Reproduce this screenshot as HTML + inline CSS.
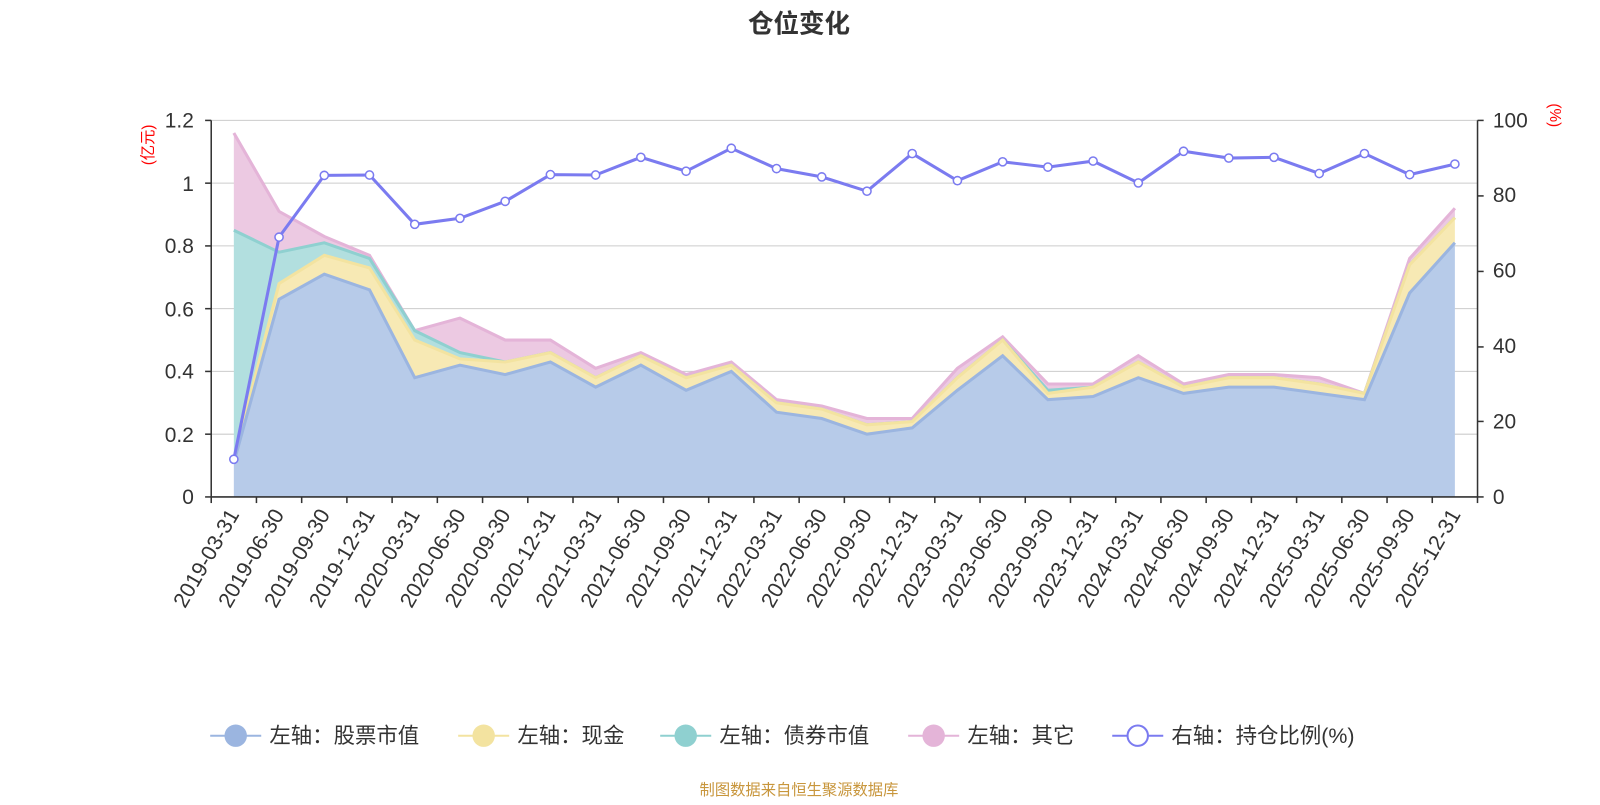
<!DOCTYPE html>
<html><head><meta charset="utf-8"><style>
body{margin:0;background:#fff;}
svg text{font-family:"Liberation Sans","Noto Sans CJK SC",sans-serif;}
</style></head><body>
<svg id="s" width="1600" height="800" xmlns="http://www.w3.org/2000/svg">
<rect width="1600" height="800" fill="#fff"/>
<g transform="scale(1.0204)">
<text x="783" y="32" text-anchor="middle" font-size="25" font-weight="bold" fill="#333">仓位变化</text>
<g id="grid" stroke="#ccc" stroke-width="1">
<line x1="207" x2="1448" y1="118" y2="118"/><line x1="207" x2="1448" y1="179.5" y2="179.5"/><line x1="207" x2="1448" y1="241" y2="241"/><line x1="207" x2="1448" y1="302.5" y2="302.5"/><line x1="207" x2="1448" y1="364" y2="364"/><line x1="207" x2="1448" y1="425.5" y2="425.5"/>
</g>
<g id="areas"></g>
<g stroke="#333" stroke-width="1.5"><line x1="207" x2="207" y1="118" y2="487"/><line x1="1448" x2="1448" y1="118" y2="487"/><line x1="207" x2="1448" y1="487" y2="487"/></g>
<g id="ticks" stroke="#333" stroke-width="1.5"></g>
<g font-size="20.5" fill="#333" text-anchor="end">
<text x="190" y="125">1.2</text><text x="190" y="187">1</text><text x="190" y="248">0.8</text><text x="190" y="310">0.6</text><text x="190" y="371">0.4</text><text x="190" y="433">0.2</text><text x="190" y="494">0</text>
</g>
<g font-size="20.5" fill="#333" text-anchor="start">
<text x="1463" y="125">100</text><text x="1463" y="198">80</text><text x="1463" y="272">60</text><text x="1463" y="346">40</text><text x="1463" y="420">20</text><text x="1463" y="494">0</text>
</g>
<text transform="translate(150,142) rotate(-90)" font-size="15" fill="red" text-anchor="middle">(亿元)</text>
<text transform="translate(1519,113) rotate(90)" font-size="15" fill="red" text-anchor="middle">(%)</text>
<g id="xl" font-size="21" fill="#333" text-anchor="end">
<text transform="translate(235,504) rotate(-60)">2019-03-31</text>
<text transform="translate(279,504) rotate(-60)">2019-06-30</text>
<text transform="translate(324,504) rotate(-60)">2019-09-30</text>
<text transform="translate(368,504) rotate(-60)">2019-12-31</text>
<text transform="translate(412,504) rotate(-60)">2020-03-31</text>
<text transform="translate(457,504) rotate(-60)">2020-06-30</text>
<text transform="translate(501,504) rotate(-60)">2020-09-30</text>
<text transform="translate(545,504) rotate(-60)">2020-12-31</text>
<text transform="translate(590,504) rotate(-60)">2021-03-31</text>
<text transform="translate(634,504) rotate(-60)">2021-06-30</text>
<text transform="translate(678,504) rotate(-60)">2021-09-30</text>
<text transform="translate(723,504) rotate(-60)">2021-12-31</text>
<text transform="translate(767,504) rotate(-60)">2022-03-31</text>
<text transform="translate(811,504) rotate(-60)">2022-06-30</text>
<text transform="translate(855,504) rotate(-60)">2022-09-30</text>
<text transform="translate(900,504) rotate(-60)">2022-12-31</text>
<text transform="translate(944,504) rotate(-60)">2023-03-31</text>
<text transform="translate(988,504) rotate(-60)">2023-06-30</text>
<text transform="translate(1033,504) rotate(-60)">2023-09-30</text>
<text transform="translate(1077,504) rotate(-60)">2023-12-31</text>
<text transform="translate(1121,504) rotate(-60)">2024-03-31</text>
<text transform="translate(1166,504) rotate(-60)">2024-06-30</text>
<text transform="translate(1210,504) rotate(-60)">2024-09-30</text>
<text transform="translate(1254,504) rotate(-60)">2024-12-31</text>
<text transform="translate(1299,504) rotate(-60)">2025-03-31</text>
<text transform="translate(1343,504) rotate(-60)">2025-06-30</text>
<text transform="translate(1387,504) rotate(-60)">2025-09-30</text>
<text transform="translate(1432,504) rotate(-60)">2025-12-31</text>
</g>
<g font-size="21" fill="#333">
<line x1="206" x2="256" y1="721" y2="721" stroke="#9bb5e0" stroke-width="2"/><circle cx="231" cy="721" r="11" fill="#9bb5e0"/><text x="264" y="728">左轴：股票市值</text>
<line x1="449" x2="499" y1="721" y2="721" stroke="#f3e3a0" stroke-width="2"/><circle cx="474" cy="721" r="11" fill="#f3e3a0"/><text x="507" y="728">左轴：现金</text>
<line x1="647" x2="697" y1="721" y2="721" stroke="#8fd0d0" stroke-width="2"/><circle cx="672" cy="721" r="11" fill="#8fd0d0"/><text x="705" y="728">左轴：债券市值</text>
<line x1="890" x2="940" y1="721" y2="721" stroke="#e4b4d8" stroke-width="2"/><circle cx="915" cy="721" r="11" fill="#e4b4d8"/><text x="948" y="728">左轴：其它</text>
<line x1="1090" x2="1140" y1="721" y2="721" stroke="#7b7bf0" stroke-width="2"/><circle cx="1115" cy="721" r="10" fill="#fff" stroke="#7b7bf0" stroke-width="2"/><text x="1148" y="728">右轴：持仓比例(%)</text>
</g>
<text x="783" y="779" text-anchor="middle" font-size="15" fill="#c8963c">制图数据来自恒生聚源数据库</text>
</g>
</svg>
<script>
var NS="http://www.w3.org/2000/svg";
function X(i){return 207+44.32*(i+0.5);}
function YL(v){return 487-v*307.5;}
function YR(v){return 487-v*3.69;}
var st=[0.11,0.63,0.71,0.66,0.38,0.42,0.39,0.43,0.35,0.42,0.34,0.40,0.27,0.25,0.20,0.22,0.34,0.45,0.31,0.32,0.38,0.33,0.35,0.35,0.33,0.31,0.65,0.81];
var ca=[0.12,0.68,0.77,0.73,0.50,0.44,0.43,0.46,0.38,0.45,0.38,0.42,0.30,0.28,0.23,0.24,0.38,0.50,0.33,0.35,0.43,0.35,0.38,0.38,0.36,0.33,0.74,0.89];
var bo=ca.slice();bo[0]=0.85;bo[1]=0.78;bo[2]=0.81;bo[3]=0.76;bo[4]=0.53;bo[5]=0.46;bo[18]=0.34;
var ot=[1.16,0.91,0.83,0.77,0.53,0.57,0.50,0.50,0.41,0.46,0.39,0.43,0.31,0.29,0.25,0.25,0.41,0.51,0.36,0.36,0.45,0.36,0.39,0.39,0.38,0.33,0.76,0.92];
var ra=[10,69,85.4,85.5,72.4,74,78.5,85.6,85.5,90.2,86.5,92.6,87.2,85,81.2,91.2,84,89,87.6,89.2,83.4,91.8,90,90.2,85.9,91.2,85.6,88.4];
var g=document.getElementById("areas");
function el(n,a,p){var e=document.createElementNS(NS,n);for(var k in a)e.setAttribute(k,a[k]);(p||g).appendChild(e);return e;}
function area(top,bot,fill,stroke){
 var d="M",i;for(i=0;i<28;i++)d+=X(i)+","+YL(top[i])+" L";
 for(i=27;i>=0;i--)d+=X(i)+","+YL(bot?bot[i]:0)+(i?" L":"Z");
 el("path",{d:d,fill:fill});
 var l="";for(i=0;i<28;i++)l+=(i?"L":"M")+X(i)+","+YL(top[i]);
 el("path",{d:l,fill:"none",stroke:stroke,"stroke-width":3});
}
area(ot,bo,"#ecc9e2","#e4b4d8");
area(bo,ca,"#b2dfdf","#8fd0d0");
area(ca,st,"#f7e9b4","#f3e3a0");
area(st,null,"#b7cbe9","#9bb5e0");
var l="";for(var i=0;i<28;i++)l+=(i?"L":"M")+X(i)+","+YR(ra[i]);
el("path",{d:l,fill:"none",stroke:"#7b7bf0","stroke-width":3});
for(i=0;i<28;i++)el("circle",{cx:X(i),cy:YR(ra[i]),r:4,fill:"#fff",stroke:"#7b7bf0","stroke-width":1.5});
var t=document.getElementById("ticks");
for(i=0;i<=28;i++){var x=207+44.32*i;el("line",{x1:x,x2:x,y1:487,y2:493},t);}
[118,192,266,340,413,487].forEach(function(y){el("line",{x1:1448,x2:1454,y1:y,y2:y},t);});
[118,179.5,241,302.5,364,425.5,487].forEach(function(y){el("line",{x1:201,x2:207,y1:y,y2:y},t);});
</script>
</body></html>
